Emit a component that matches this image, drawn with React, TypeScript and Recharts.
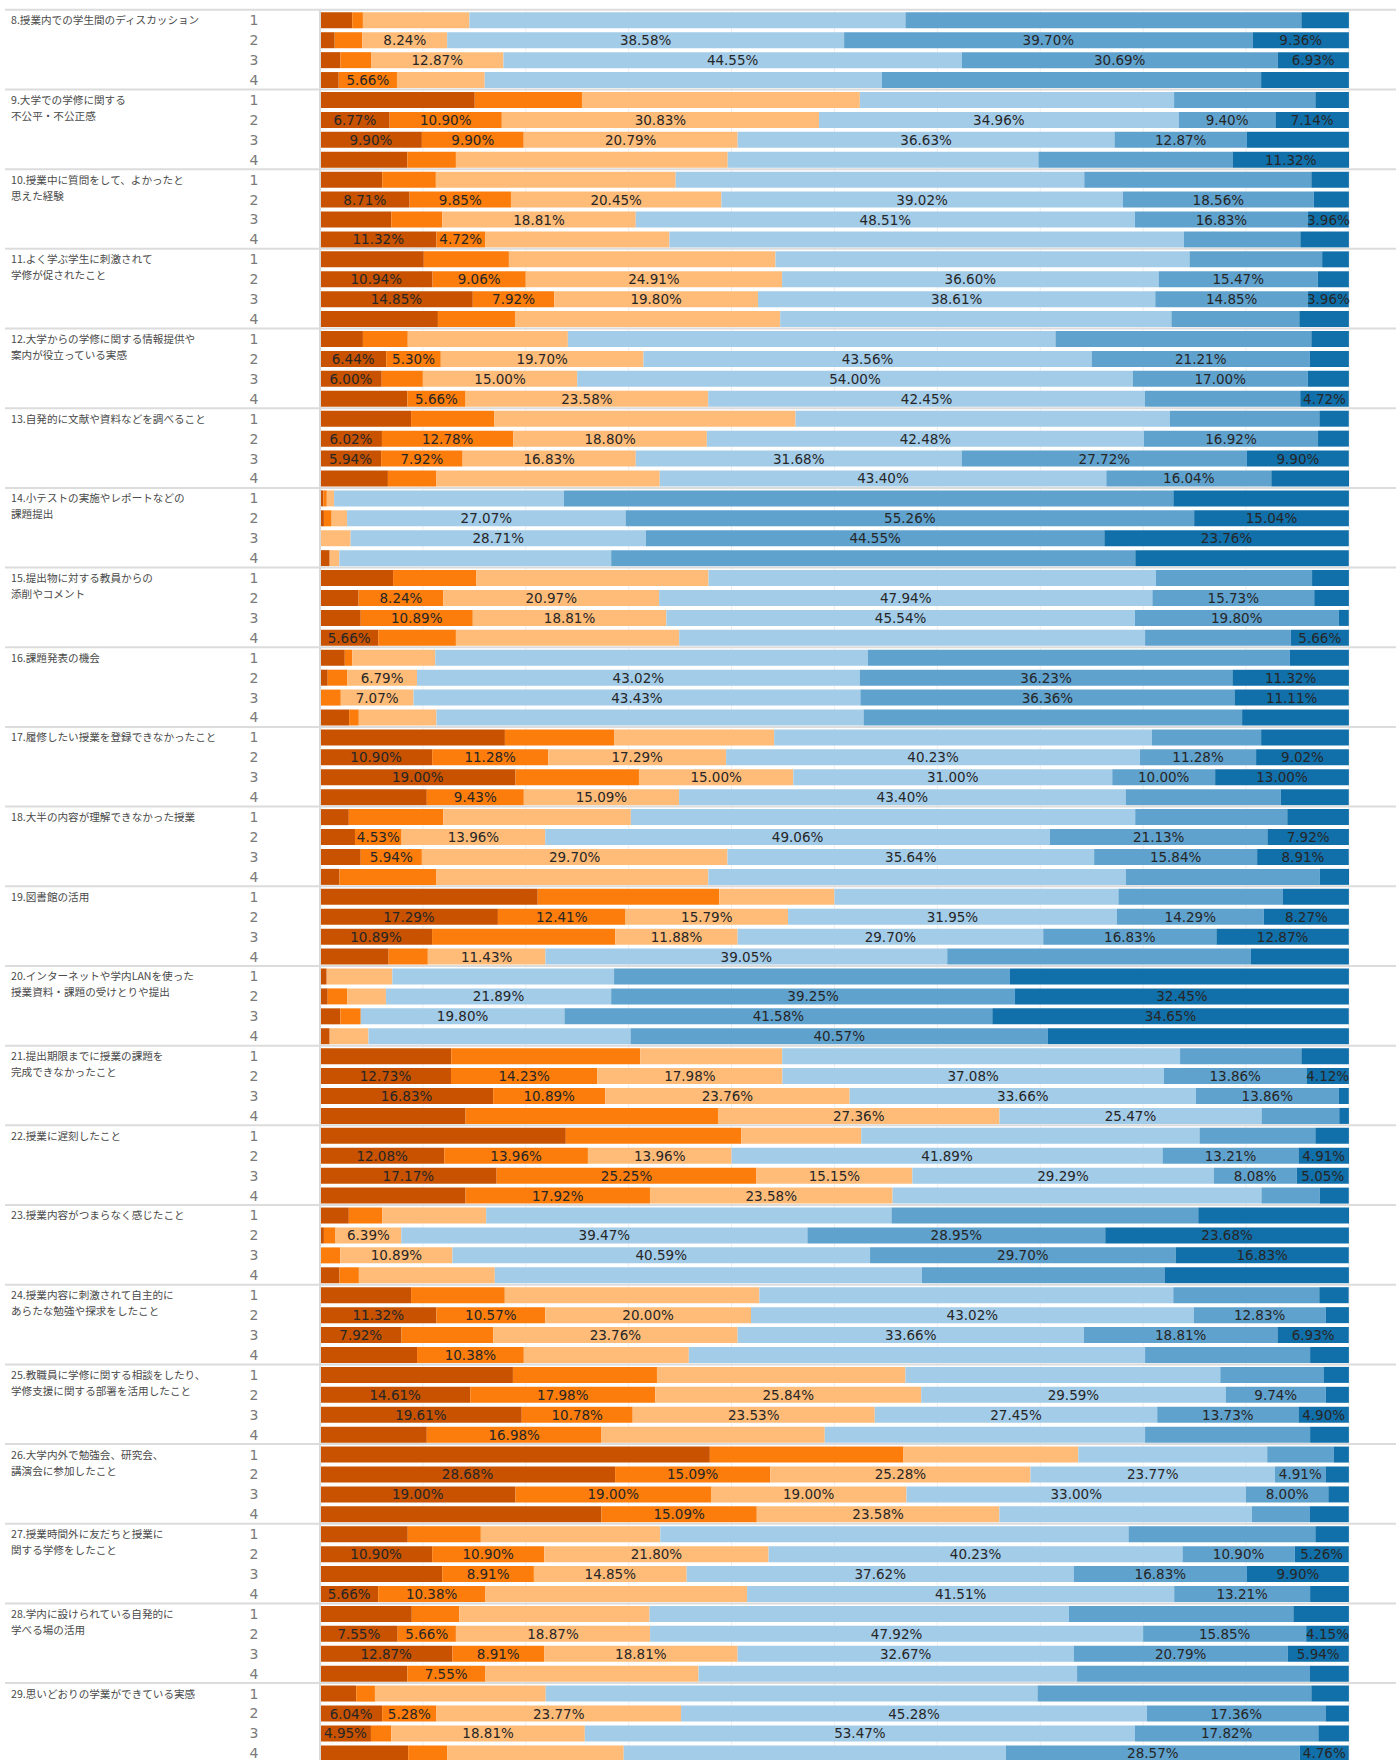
import React from 'react'
import { BarChart, Bar, XAxis, YAxis, CartesianGrid, LabelList } from 'recharts'

// question labels (one or two lines each)
const questionLabels = [
  ['8.授業内での学生間のディスカッション'],
  ['9.大学での学修に関する', '不公平・不公正感'],
  ['10.授業中に質問をして、よかったと', '思えた経験'],
  ['11.よく学ぶ学生に刺激されて', '学修が促されたこと'],
  ['12.大学からの学修に関する情報提供や', '案内が役立っている実感'],
  ['13.自発的に文献や資料などを調べること'],
  ['14.小テストの実施やレポートなどの', '課題提出'],
  ['15.提出物に対する教員からの', '添削やコメント'],
  ['16.課題発表の機会'],
  ['17.履修したい授業を登録できなかったこと'],
  ['18.大半の内容が理解できなかった授業'],
  ['19.図書館の活用'],
  ['20.インターネットや学内LANを使った', '授業資料・課題の受けとりや提出'],
  ['21.提出期限までに授業の課題を', '完成できなかったこと'],
  ['22.授業に遅刻したこと'],
  ['23.授業内容がつまらなく感じたこと'],
  ['24.授業内容に刺激されて自主的に', 'あらたな勉強や探求をしたこと'],
  ['25.教職員に学修に関する相談をしたり、', '学修支援に関する部署を活用したこと'],
  ['26.大学内外で勉強会、研究会、', '講演会に参加したこと'],
  ['27.授業時間外に友だちと授業に', '関する学修をしたこと'],
  ['28.学内に設けられている自発的に', '学べる場の活用'],
  ['29.思いどおりの学業ができている実感'],
]

const rowLabels = ['1', '2', '3', '4']
const seriesColors = ['#c85200', '#fc7d0b', '#ffbc79', '#a3cce9', '#5fa2ce', '#1170aa']
const percentTicks = [0, 10, 20, 30, 40, 50, 60, 70, 80, 90, 100]

// each row: six shares (%) from dark orange to dark blue
const q8 = [
  [3.13, 1.04, 10.35, 42.38, 38.48, 4.62],
  [1.43, 2.69, 8.24, 38.58, 39.7, 9.36],
  [1.98, 2.98, 12.87, 44.55, 30.69, 6.93],
  [1.82, 5.66, 8.53, 38.6, 36.86, 8.53],
]
const q9 = [
  [15.04, 10.42, 27.01, 30.54, 13.73, 3.26],
  [6.77, 10.9, 30.83, 34.96, 9.4, 7.14],
  [9.9, 9.9, 20.79, 36.63, 12.87, 9.91],
  [8.49, 4.72, 26.42, 30.19, 18.87, 11.32],
]
const q10 = [
  [6.05, 5.21, 23.31, 39.71, 22.07, 3.65],
  [8.71, 9.85, 20.45, 39.02, 18.56, 3.41],
  [6.93, 4.95, 18.81, 48.51, 16.83, 3.96],
  [11.32, 4.72, 17.92, 50.0, 11.32, 4.72],
]
const q11 = [
  [10.09, 8.27, 25.91, 40.24, 12.89, 2.6],
  [10.94, 9.06, 24.91, 36.6, 15.47, 3.02],
  [14.85, 7.92, 19.8, 38.61, 14.85, 3.96],
  [11.46, 7.49, 25.78, 38.02, 12.43, 4.82],
]
const q12 = [
  [4.17, 4.36, 15.56, 47.39, 24.87, 3.65],
  [6.44, 5.3, 19.7, 43.56, 21.21, 3.79],
  [6.0, 4.0, 15.0, 54.0, 17.0, 4.0],
  [8.49, 5.66, 23.58, 42.45, 15.09, 4.72],
]
const q13 = [
  [8.85, 8.07, 29.3, 36.39, 14.52, 2.86],
  [6.02, 12.78, 18.8, 42.48, 16.92, 3.0],
  [5.94, 7.92, 16.83, 31.68, 27.72, 9.9],
  [6.6, 4.72, 21.7, 43.4, 16.04, 7.55],
]
const q14 = [
  [0.33, 0.33, 0.71, 22.33, 59.24, 17.06],
  [0.38, 0.75, 1.5, 27.07, 55.26, 15.04],
  [0, 0, 2.97, 28.71, 44.55, 23.76],
  [0.94, 0, 0.94, 26.42, 50.94, 20.75],
]
const q15 = [
  [7.1, 8.07, 22.59, 43.49, 15.17, 3.58],
  [3.75, 8.24, 20.97, 47.94, 15.73, 3.37],
  [3.96, 10.89, 18.81, 45.54, 19.8, 0.99],
  [5.66, 7.55, 21.7, 45.28, 14.15, 5.66],
]
const q16 = [
  [2.41, 0.72, 8.07, 42.06, 41.01, 5.73],
  [0.75, 1.89, 6.79, 43.02, 36.23, 11.32],
  [0, 2.02, 7.07, 43.43, 36.36, 11.11],
  [2.83, 0.94, 7.55, 41.51, 36.79, 10.38],
]
const q17 = [
  [17.97, 10.61, 15.56, 36.72, 10.61, 8.53],
  [10.9, 11.28, 17.29, 40.23, 11.28, 9.02],
  [19.0, 12.0, 15.0, 31.0, 10.0, 13.0],
  [10.38, 9.43, 15.09, 43.4, 15.09, 6.6],
]
const q18 = [
  [2.8, 9.18, 18.23, 49.02, 14.78, 5.99],
  [3.4, 4.53, 13.96, 49.06, 21.13, 7.92],
  [3.96, 5.94, 29.7, 35.64, 15.84, 8.91],
  [1.89, 9.43, 26.42, 40.57, 18.87, 2.83],
]
const q19 = [
  [21.16, 17.64, 11.2, 27.6, 15.95, 6.45],
  [17.29, 12.41, 15.79, 31.95, 14.29, 8.27],
  [10.89, 17.82, 11.88, 29.7, 16.83, 12.87],
  [6.67, 3.81, 11.43, 39.05, 29.52, 9.52],
]
const q20 = [
  [0.65, 0, 6.38, 21.55, 38.48, 32.94],
  [0.75, 1.89, 3.77, 21.89, 39.25, 32.45],
  [1.98, 1.98, 0, 19.8, 41.58, 34.65],
  [0.94, 0, 3.77, 25.47, 40.57, 29.25],
]
const q21 = [
  [12.76, 18.36, 13.8, 38.67, 11.79, 4.62],
  [12.73, 14.23, 17.98, 37.08, 13.86, 4.12],
  [16.83, 10.89, 23.76, 33.66, 13.86, 0.99],
  [14.15, 24.53, 27.36, 25.47, 7.55, 0.94],
]
const q22 = [
  [23.89, 17.06, 11.65, 32.88, 11.26, 3.26],
  [12.08, 13.96, 13.96, 41.89, 13.21, 4.91],
  [17.17, 25.25, 15.15, 29.29, 8.08, 5.05],
  [14.15, 17.92, 23.58, 35.85, 5.66, 2.83],
]
const q23 = [
  [2.8, 3.26, 10.09, 39.39, 29.82, 14.65],
  [0.38, 1.13, 6.39, 39.47, 28.95, 23.68],
  [0, 1.98, 10.89, 40.59, 29.7, 16.83],
  [1.89, 1.89, 13.21, 41.51, 23.58, 17.92],
]
const q24 = [
  [8.85, 9.11, 24.74, 40.23, 14.19, 2.86],
  [11.32, 10.57, 20.0, 43.02, 12.83, 2.26],
  [7.92, 8.91, 23.76, 33.66, 18.81, 6.93],
  [9.43, 10.38, 16.04, 44.34, 16.04, 3.77],
]
const q25 = [
  [18.75, 14.0, 24.15, 30.6, 10.03, 2.47],
  [14.61, 17.98, 25.84, 29.59, 9.74, 2.24],
  [19.61, 10.78, 23.53, 27.45, 13.73, 4.9],
  [10.38, 16.98, 21.7, 31.13, 16.04, 3.77],
]
const q26 = [
  [37.89, 18.82, 16.99, 18.36, 6.45, 1.49],
  [28.68, 15.09, 25.28, 23.77, 4.91, 2.27],
  [19.0, 19.0, 19.0, 33.0, 8.0, 2.0],
  [27.36, 15.09, 23.58, 24.53, 5.66, 3.77],
]
const q27 = [
  [8.53, 7.1, 17.44, 45.51, 18.16, 3.26],
  [10.9, 10.9, 21.8, 40.23, 10.9, 5.26],
  [11.88, 8.91, 14.85, 37.62, 16.83, 9.9],
  [5.66, 10.38, 25.47, 41.51, 13.21, 3.77],
]
const q28 = [
  [8.92, 4.62, 18.49, 40.76, 21.81, 5.4],
  [7.55, 5.66, 18.87, 47.92, 15.85, 4.15],
  [12.87, 8.91, 18.81, 32.67, 20.79, 5.94],
  [8.49, 7.55, 20.75, 36.79, 22.64, 3.77],
]
const q29 = [
  [3.52, 1.82, 16.6, 47.79, 26.62, 3.65],
  [6.04, 5.28, 23.77, 45.28, 17.36, 2.27],
  [4.95, 1.98, 18.81, 53.47, 17.82, 2.97],
  [8.57, 3.81, 17.14, 37.14, 28.57, 4.76],
]

const questionValues = [
  q8, q9, q10, q11, q12, q13, q14, q15, q16, q17, q18,
  q19, q20, q21, q22, q23, q24, q25, q26, q27, q28, q29,
]

// which segments carry a percentage label ('1' = shown), per question and row
const labelMasks = [
  ['000000', '001111', '001111', '010000'],
  ['000000', '111111', '111110', '000001'],
  ['000000', '111110', '001111', '110000'],
  ['000000', '111110', '111111', '000000'],
  ['000000', '111110', '101110', '011101'],
  ['000000', '111110', '111111', '000110'],
  ['000000', '000111', '000111', '000000'],
  ['000000', '011110', '011110', '100001'],
  ['000000', '001111', '001111', '000000'],
  ['000000', '111111', '101111', '011100'],
  ['000000', '011111', '011111', '000000'],
  ['000000', '111111', '101111', '001100'],
  ['000000', '000111', '000111', '000010'],
  ['000000', '111111', '111110', '001100'],
  ['000000', '111111', '111111', '011000'],
  ['000000', '001111', '001111', '000000'],
  ['000000', '111110', '101111', '010000'],
  ['000000', '111110', '111111', '010000'],
  ['000000', '111110', '111110', '011000'],
  ['000000', '111111', '011111', '110110'],
  ['000000', '111111', '111111', '010000'],
  ['000000', '111110', '101110', '000011'],
]

const data = questionValues.flatMap((rows, g) =>
  rows.map((vals, r) => {
    const row: any = { key: `${g}-${r}` }
    vals.forEach((v, i) => {
      row[`s${i}`] = v
      row[`t${i}`] = labelMasks[g][r][i] === '1' ? `${v.toFixed(2)}%` : ''
    })
    return row
  })
)

const CHART_W = 1396
const CHART_H = 1766
const M_TOP = 10.3
const M_BOTTOM = 2.7
const ROW_H = (CHART_H - M_TOP - M_BOTTOM) / data.length

function RowTick(props: any) {
  const { y, payload } = props
  const [g, r] = String(payload.value).split('-').map(Number)
  return (
    <g>
      {r === 0 && (
        <line x1={5} x2={CHART_W} y1={y - ROW_H / 2 - 0.5} y2={y - ROW_H / 2 - 0.5} stroke="#dcdcdc" strokeWidth={2} />
      )}
      {r === 0 &&
        questionLabels[g].map((line, i) => (
          <text key={i} x={11} y={y + 4 + i * 16} fontSize={10.6} fill="#4a4a4a" fontFamily="'Noto Sans CJK JP', sans-serif">
            {line}
          </text>
        ))}
      <text x={254} y={y} textAnchor="middle" dominantBaseline="central" fontSize={14} fill="#7a7a7a" fontFamily="'DejaVu Sans', sans-serif">
        {rowLabels[r]}
      </text>
    </g>
  )
}

function SegmentLabel(props: any) {
  const { x, y, width, height, value } = props
  if (!value) return null
  return (
    <text
      x={Number(x) + Number(width) / 2}
      y={Number(y) + Number(height) / 2}
      textAnchor="middle"
      dominantBaseline="central"
      fontSize={13.5}
      fill="#262626"
      fontFamily="'DejaVu Sans', sans-serif"
    >
      {value}
    </text>
  )
}

export default function App() {
  return (
    <div style={{ width: CHART_W, height: 1760, overflow: 'hidden', background: '#fff' }}>
      <style>{'body{margin:0}'}</style>
      <BarChart
        layout="vertical"
        width={CHART_W}
        height={CHART_H}
        data={data}
        margin={{ top: M_TOP, right: 47, bottom: M_BOTTOM, left: 0 }}
      >
        <CartesianGrid horizontal={false} stroke="#efefef" />
        <XAxis type="number" domain={[0, 100]} ticks={percentTicks} hide />
        <YAxis
          type="category"
          dataKey="key"
          width={320}
          interval={0}
          tickLine={false}
          axisLine={{ stroke: '#d9d9d9', strokeWidth: 2 }}
          tick={<RowTick />}
        />
        {seriesColors.map((color, i) => (
          <Bar key={i} dataKey={`s${i}`} stackId="a" fill={color} barSize={16} isAnimationActive={false}>
            <LabelList dataKey={`t${i}`} content={<SegmentLabel />} />
          </Bar>
        ))}
      </BarChart>
    </div>
  )
}
